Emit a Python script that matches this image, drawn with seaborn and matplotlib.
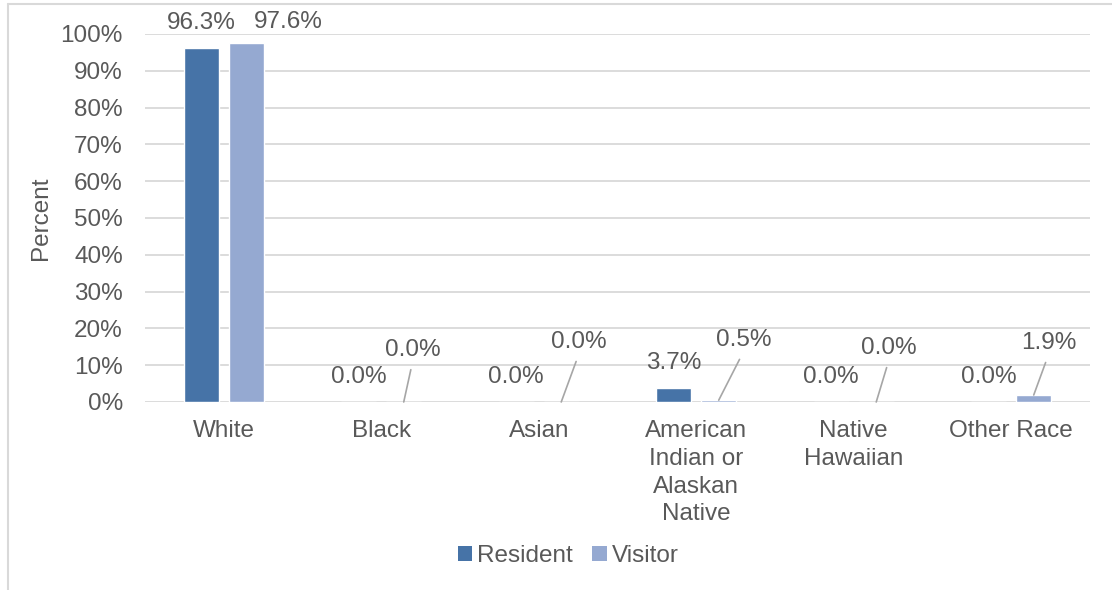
import matplotlib
matplotlib.use("Agg")
import matplotlib.pyplot as plt
from matplotlib.lines import Line2D
from matplotlib.patches import Patch
import seaborn as sns
import pandas as pd

# ---- data ----
categories = ["White", "Black", "Asian", "American Indian or Alaskan Native",
              "Native Hawaiian", "Other Race"]
tick_labels = ["White", "Black", "Asian", "American\nIndian or\nAlaskan\nNative",
               "Native\nHawaiian", "Other Race"]
series = ["Resident", "Visitor"]
resident = [96.3, 0.0, 0.0, 3.7, 0.0, 0.0]
visitor = [97.6, 0.0, 0.0, 0.5, 0.0, 1.9]
y_ticks = [0, 10, 20, 30, 40, 50, 60, 70, 80, 90, 100]

# ---- style ----
colors = {"Resident": "#4673A7", "Visitor": "#95A9D1"}
text_color = "#595959"
grid_color = "#d9d9d9"
# pixel offsets of visitor labels relative to bar top; leader lines for small bars
visitor_label_offsets = [(42, 21), (9, 52), (18, 60), (25, 60), (13, 54), (15, 52)]
visitor_leader = [False, True, True, True, True, True]

sns.set_theme(style="white")
plt.rcParams["font.family"] = ["Liberation Sans", "DejaVu Sans"]
FS = 17.5

df = pd.DataFrame({
    "Race": categories * 2,
    "Group": [series[0]] * len(categories) + [series[1]] * len(categories),
    "Percent": resident + visitor,
})

fig = plt.figure(figsize=(11.12, 5.9), dpi=100)
ax = fig.add_axes([145 / 1112, 1 - 402 / 590, (1090 - 145) / 1112, (402 - 34) / 590])

sns.barplot(data=df, x="Race", y="Percent", hue="Group", hue_order=series,
            order=categories, palette=colors, width=0.571, gap=0.22,
            saturation=1, ax=ax, legend=False, errorbar=None)

ax.set_ylim(0, 100)
ax.set_yticks(y_ticks)
ax.set_yticklabels([f"{t}%" for t in y_ticks])
ax.set_xticks(range(len(categories)))
ax.set_xticklabels(tick_labels, linespacing=1.34)
ax.tick_params(axis="y", length=0, pad=16, labelsize=FS, labelcolor=text_color)
ax.tick_params(axis="x", length=0, pad=13, labelsize=FS, labelcolor=text_color)
ax.set_xlabel("")
ax.set_ylabel("Percent", fontsize=FS, color=text_color, labelpad=6)
ax.yaxis.grid(True, color=grid_color, linewidth=1.3)
ax.set_axisbelow(True)
for s in ax.spines.values():
    s.set_visible(False)

# ---- data labels ----
res_bars = ax.containers[0]
vis_bars = ax.containers[1]
for bar, v in zip(res_bars, resident):
    x = bar.get_x() + bar.get_width() / 2
    ax.annotate(f"{v:.1f}%", xy=(x, v), xytext=(0, 25), textcoords="offset pixels",
                ha="center", va="center", fontsize=FS, color=text_color)
for bar, v, off, lead in zip(vis_bars, visitor, visitor_label_offsets, visitor_leader):
    x = bar.get_x() + bar.get_width() / 2
    kw = dict(xy=(x, v), xytext=off, textcoords="offset pixels",
              ha="center", va="center", fontsize=FS, color=text_color)
    if lead:
        kw["arrowprops"] = dict(arrowstyle="-", color="#a6a6a6", lw=1.2,
                                relpos=(0.5, 0.0), shrinkA=4, shrinkB=0)
    ax.annotate(f"{v:.1f}%", **kw)

# ---- legend ----
handles = [Patch(facecolor=colors[s], edgecolor="none") for s in series]
fig.legend(handles, series, loc="center", bbox_to_anchor=(0.511, 1 - 556 / 590),
           ncol=2, frameon=False, fontsize=FS, labelcolor=text_color,
           handlelength=0.6, handleheight=0.6, handletextpad=0.2, columnspacing=0.8)

# ---- chart border ----
fig.add_artist(Line2D([8 / 1112, 8 / 1112], [0, 1 - 4 / 590], transform=fig.transFigure,
                      color=grid_color, lw=1.5))
fig.add_artist(Line2D([8 / 1112, 1], [1 - 4 / 590, 1 - 4 / 590], transform=fig.transFigure,
                      color=grid_color, lw=1.5))

fig.savefig("out.png", dpi=100)
